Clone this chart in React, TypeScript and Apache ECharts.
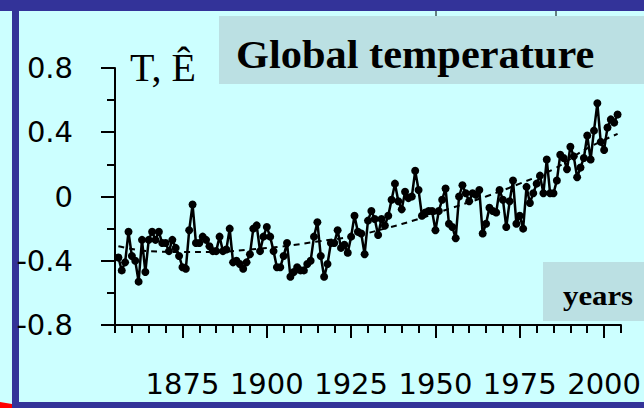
import React, { useEffect, useRef } from "react";
import * as echarts from "echarts";

// Annual global temperature anomaly T (°C), one value per year from startYear
const startYear = 1856;
const temperature = [
  -0.38, -0.46, -0.41, -0.22,
  -0.37, -0.40, -0.53, -0.27, -0.47, -0.27, -0.22, -0.27, -0.22, -0.29,
  -0.29, -0.34, -0.27, -0.32, -0.37, -0.44, -0.45, -0.21, -0.05, -0.29,
  -0.29, -0.25, -0.27, -0.31, -0.34, -0.34, -0.25, -0.34, -0.33, -0.20,
  -0.41, -0.40, -0.42, -0.45, -0.41, -0.36, -0.20, -0.18, -0.34, -0.25,
  -0.19, -0.25, -0.34, -0.44, -0.44, -0.37, -0.29, -0.50, -0.47, -0.44,
  -0.46, -0.46, -0.42, -0.40, -0.25, -0.16, -0.37, -0.50, -0.42, -0.29,
  -0.29, -0.21, -0.32, -0.30, -0.35, -0.25, -0.12, -0.22, -0.23, -0.36,
  -0.15, -0.09, -0.14, -0.24, -0.14, -0.18, -0.12, -0.02, 0.08, -0.03,
  -0.08, 0.03, -0.01, 0.0, 0.16, 0.04, -0.12, -0.10, -0.09, -0.09,
  -0.21, -0.09, -0.02, 0.05, -0.17, -0.19, -0.26, 0.0, 0.07, 0.02,
  -0.03, 0.02, 0.01, 0.04, -0.23, -0.17, -0.07, -0.09, -0.10, 0.04,
  -0.02, -0.19, -0.03, 0.10, -0.17, -0.12, -0.20, 0.06, -0.04, 0.02,
  0.08, 0.13, 0.02, 0.23, 0.02, 0.02, 0.10, 0.26, 0.24, 0.17,
  0.31, 0.25, 0.12, 0.18, 0.24, 0.38, 0.23, 0.41, 0.58, 0.34,
  0.29, 0.43, 0.48, 0.46, 0.51,
];

// Dashed trend curve, read at a few years
const trendYears = [1856, 1865, 1875, 1885, 1895, 1905, 1915, 1925, 1935, 1945, 1955, 1965, 1975, 1985, 1995, 2004];
const trendValues = [-0.31, -0.34, -0.345, -0.345, -0.33, -0.31, -0.28, -0.25, -0.2, -0.14, -0.07, 0.0, 0.08, 0.17, 0.3, 0.39];

const xMin = 1855;
const xMax = 2005;
const xLabelYears = [1875, 1900, 1925, 1950, 1975, 2000];
const yMin = -0.8;
const yMax = 0.8;
const yStep = 0.4;

const titleText = "Global temperature";
const yAxisName = "T, Ê";
const xAxisName = "years";

export default function App() {
  const ref = useRef<HTMLDivElement>(null);

  useEffect(() => {
    document.body.style.margin = "0";
    const chart = echarts.init(ref.current!, null, { renderer: "svg" });
    const tempData = temperature.map((v, i) => [startYear + i, v]);
    const trendData = trendYears.map((y, i) => [y, trendValues[i]]);
    const axisFont = "DejaVu Sans";
    const boxColor = "#BBE0E3";
    const frameColor = "#333399";

    chart.setOption({
      animation: false,
      backgroundColor: "#CCFFFF",
      grid: { left: 115, right: 10, top: 68, bottom: 83 },
      xAxis: [
        {
          type: "value",
          min: xMin,
          max: xMax,
          position: "bottom",
          axisLine: { show: true, onZero: false, lineStyle: { color: "#000", width: 2 } },
          axisTick: {
            show: true,
            customValues: xLabelYears,
            length: 13,
            lineStyle: { color: "#000", width: 2 },
          },
          axisLabel: {
            customValues: xLabelYears,
            color: "#000",
            fontSize: 29,
            fontFamily: axisFont,
            margin: 44,
            formatter: (v: number) => String(v),
          },
          splitLine: { show: false },
        },
        {
          type: "value",
          min: xMin,
          max: xMax,
          interval: 5,
          position: "bottom",
          axisLine: { show: false, onZero: false },
          axisTick: { show: true, length: 8, lineStyle: { color: "#000", width: 2 } },
          axisLabel: { show: false },
          splitLine: { show: false },
        },
      ],
      yAxis: {
        type: "value",
        min: yMin,
        max: yMax,
        interval: yStep,
        axisLine: { show: true, onZero: false, lineStyle: { color: "#000", width: 2 } },
        axisTick: { show: true, length: 14, lineStyle: { color: "#000", width: 2 } },
        minorTick: { show: true, splitNumber: 2, length: 8, lineStyle: { color: "#000", width: 2 } },
        axisLabel: {
          color: "#000",
          fontSize: 29,
          fontFamily: axisFont,
          margin: 42,
          formatter: (v: number) => String(Math.round(v * 10) / 10),
        },
        splitLine: { show: false },
        minorSplitLine: { show: false },
      },
      graphic: [
        { type: "rect", z: -1, shape: { x: 219, y: 16, width: 430, height: 68 }, style: { fill: boxColor } },
        { type: "rect", z: -1, shape: { x: 543, y: 262, width: 110, height: 59 }, style: { fill: boxColor } },
        {
          type: "text",
          x: 236,
          y: 54,
          scaleX: 1.06,
          style: {
            text: titleText,
            fontSize: 40,
            fontWeight: "bold",
            fontFamily: "Liberation Serif",
            fill: "#000",
            align: "left",
            verticalAlign: "middle",
            textAlign: "left",
            textVerticalAlign: "middle",
          },
        },
        {
          type: "text",
          x: 130,
          y: 67,
          style: {
            text: yAxisName,
            fontSize: 40,
            fontFamily: "Liberation Serif",
            fill: "#000",
            align: "left",
            verticalAlign: "middle",
            textAlign: "left",
            textVerticalAlign: "middle",
          },
        },
        {
          type: "text",
          x: 563,
          y: 295,
          scaleX: 1.1,
          style: {
            text: xAxisName,
            fontSize: 28,
            fontWeight: "bold",
            fontFamily: "Liberation Serif",
            fill: "#000",
            align: "left",
            verticalAlign: "middle",
            textAlign: "left",
            textVerticalAlign: "middle",
          },
        },
        { type: "line", shape: { x1: 436, y1: 11, x2: 436, y2: 16 }, style: { stroke: "#000", lineWidth: 1 } },
        { type: "line", shape: { x1: 556, y1: 11, x2: 556, y2: 16 }, style: { stroke: "#000", lineWidth: 1 } },
        { type: "rect", shape: { x: 0, y: 0, width: 644, height: 11 }, style: { fill: frameColor } },
        { type: "rect", shape: { x: 12, y: 0, width: 7, height: 408 }, style: { fill: frameColor } },
        { type: "rect", shape: { x: 12, y: 402, width: 632, height: 6 }, style: { fill: frameColor } },
        { type: "polygon", shape: { points: [[0, 402], [12, 404], [12, 408], [0, 408]] }, style: { fill: "#FF0000" } },
      ],
      series: [
        {
          type: "line",
          xAxisIndex: 0,
          data: trendData,
          smooth: 0.4,
          showSymbol: false,
          symbol: "none",
          lineStyle: { color: "#000", width: 2, type: [6, 5] },
          z: 2,
        },
        {
          type: "line",
          xAxisIndex: 0,
          data: tempData,
          symbol: "circle",
          symbolSize: 8,
          showSymbol: true,
          showAllSymbol: true,
          itemStyle: { color: "#000" },
          lineStyle: { color: "#000", width: 2.5 },
          z: 3,
        },
      ],
    });

    return () => chart.dispose();
  }, []);

  return <div ref={ref} style={{ position: "fixed", left: 0, top: 0, width: 644, height: 408 }} />;
}
